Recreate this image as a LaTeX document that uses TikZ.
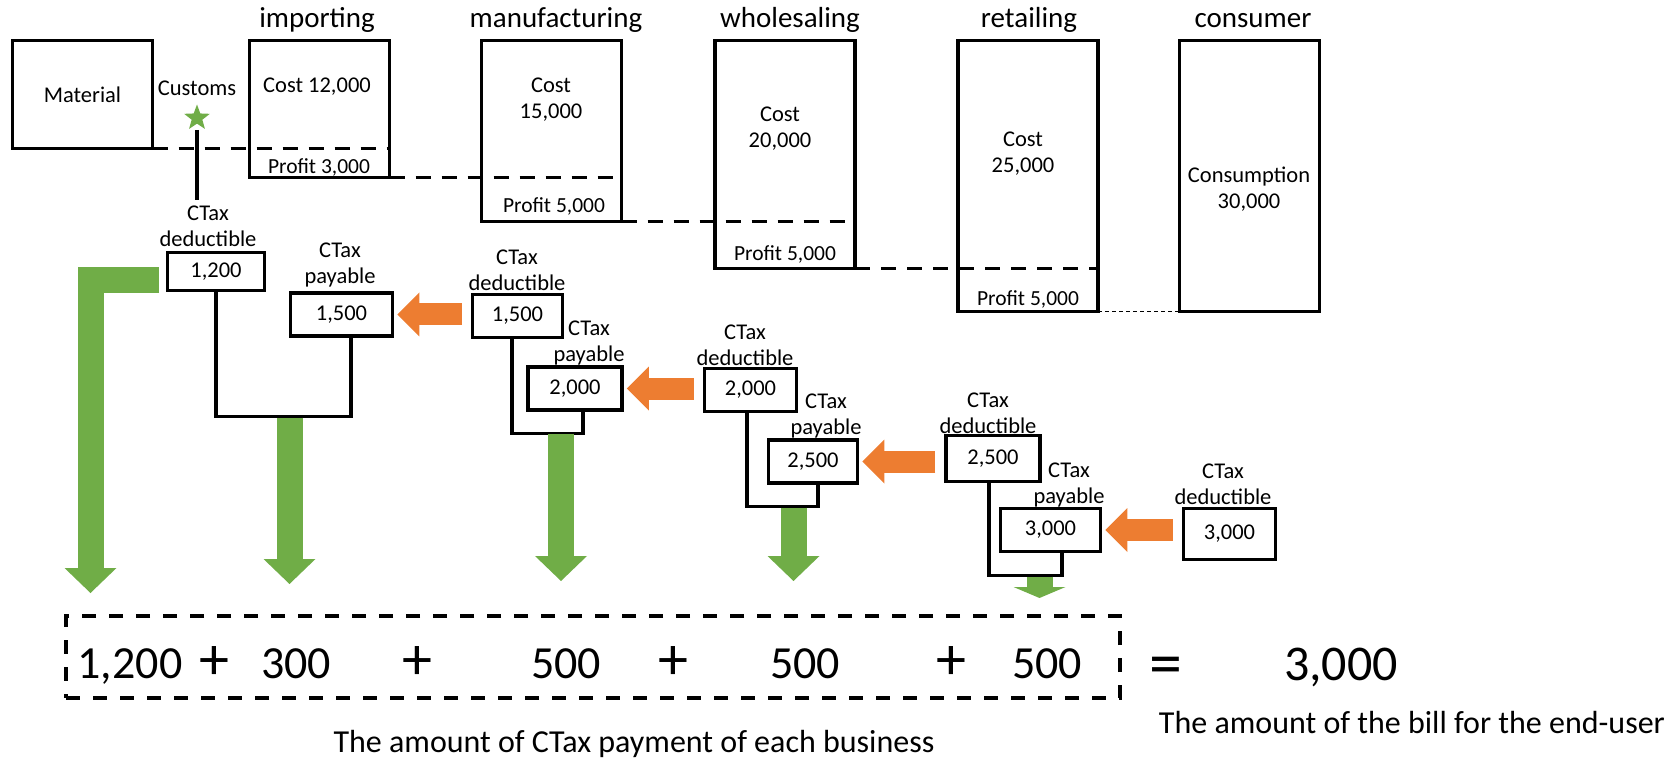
\documentclass[tikz,border=0pt]{standalone}
\usepackage{fontspec}
\setmainfont{Carlito}
\usetikzlibrary{arrows.meta,shapes.geometric}
\definecolor{taxgreen}{RGB}{112,173,71}
\definecolor{taxorange}{RGB}{237,125,49}

\begin{document}
\begin{tikzpicture}[x=1pt,y=-1pt,
  stagebox/.style={draw,line width=3.5pt,minimum width=140pt,inner sep=0pt,outer sep=0pt},
  taxbox/.style={draw,line width=3.5pt,minimum width=94pt,minimum height=43pt,inner sep=0pt,font=\fontsize{22.5}{26}\selectfont},
  txt/.style={inner sep=0pt,align=center,font=\fontsize{22.5}{26}\selectfont},
  profittext/.style={inner sep=0pt,font=\fontsize{21.5}{24}\selectfont},
  stagehead/.style={anchor=base,inner sep=0pt,font=\fontsize{29}{34}\selectfont},
  sumnum/.style={anchor=base,inner sep=0pt,font=\fontsize{46}{54}\selectfont},
  signnum/.style={inner sep=0pt,font=\fontsize{60}{64}\selectfont},
  bottomtext/.style={anchor=base,inner sep=0pt,font=\fontsize{32}{38}\selectfont},
  costline/.style={line width=3.5pt,dash pattern=on 15pt off 11pt},
  bracketline/.style={line width=3.5pt},
  passon/.style={taxorange,line width=22pt,-{Triangle[length=22pt,width=44pt,line width'=0pt]},shorten <=9pt,shorten >=3pt},
  payin/.style={taxgreen,line width=26pt,-{Triangle[length=25pt,width=52pt,line width'=0pt]}},
]
\useasboundingbox (0,0) rectangle (1679,759);

% stages
\node[stagebox,minimum height=108pt,font=\fontsize{22.5}{26}\selectfont] (mat) at (82.5,94.5) {Material};
\node[stagebox,minimum height=137pt] (imp) at (319.5,109) {};
\node[stagebox,minimum height=181pt] (man) at (551.5,131) {};
\node[stagebox,minimum height=228pt] (who) at (785,154.5) {};
\node[stagebox,minimum height=271pt] (ret) at (1028,176) {};
\node[stagebox,minimum height=271pt] (con) at (1249.5,176) {};

\node[stagehead] (implbl) at (317,28) {importing};
\node[stagehead] (manlbl) at (556,28) {manufacturing};
\node[stagehead] (wholbl) at (790,28) {wholesaling};
\node[stagehead] (retlbl) at (1029,28) {retailing};
\node[stagehead] (conlbl) at (1253,28) {consumer};

\node[txt] (impcost) at (317,87) {Cost 12,000};
\node[txt] (mancost) at (551,100) {Cost\\15,000};
\node[txt] (whocost) at (780,129) {Cost\\20,000};
\node[txt] (retcost) at (1023,154) {Cost\\25,000};
\node[txt] (concost) at (1249,189) {Consumption\\30,000};

\node[profittext] (impprofit) at (319,167) {Profit 3,000};
\node[profittext] (manprofit) at (554,206) {Profit 5,000};
\node[profittext] (whoprofit) at (785,254) {Profit 5,000};
\node[profittext] (retprofit) at (1028,299) {Profit 5,000};

\draw[costline] (mat.south east) -- (mat.south east -| imp.east);
\draw[costline] (imp.south east) -- (imp.south east -| man.east);
\draw[costline] (man.south east) -- (man.south east -| who.east);
\draw[costline] (who.south east) -- (who.south east -| ret.east);
\draw[line width=1pt,dash pattern=on 4pt off 3pt] (ret.south east) -- (con.south west);

% customs
\node[txt] (customs) at (197,88) {Customs};
\node[star,star points=5,star point ratio=2.4,fill=taxgreen,minimum size=27pt,inner sep=0pt] (duty) at (197,118) {};
\node[txt] (lblc) at (208,226) {CTax\\deductible};
\draw[bracketline,shorten <=12pt,shorten >=5pt] (duty.center) -- (duty.center |- lblc.north);

% tax boxes
\node[taxbox,minimum width=97pt,minimum height=38pt] (d1) at (216,271.5) {1,200};
\node[taxbox,minimum width=102pt] (p1) at (341.5,314.5) {1,500};
\node[taxbox,minimum width=90pt] (d2) at (517.5,316) {1,500};
\node[taxbox] (p2) at (575,388.5) {2,000};
\node[taxbox,minimum width=92pt] (d3) at (750.5,390) {2,000};
\node[taxbox,minimum width=89pt] (p3) at (813,461.5) {2,500};
\node[taxbox,minimum height=46pt] (d4) at (993,458.5) {2,500};
\node[taxbox,minimum width=100pt] (p4) at (1050.5,530) {3,000};
\node[taxbox,minimum width=92pt,minimum height=51pt] (d5) at (1229.5,534) {3,000};

\node[txt] (lp1) at (340,265) {CTax\\payable};
\node[txt] (ld2) at (517,270) {CTax\\deductible};
\node[txt] (lp2) at (589,343) {CTax\\payable};
\node[txt] (ld3) at (745,345) {CTax\\deductible};
\node[txt] (lp3) at (826,416) {CTax\\payable};
\node[txt] (ld4) at (988,413) {CTax\\deductible};
\node[txt] (lp4) at (1069,485) {CTax\\payable};
\node[txt] (ld5) at (1223,484) {CTax\\deductible};

\draw[passon] (d2.west |- p1.east) -- (p1.east);
\draw[passon] (d3.west |- p2.east) -- (p2.east);
\draw[passon] (d4.west |- p3.east) -- (p3.east);
\draw[passon] (d5.west |- p4.east) -- (p4.east);

\draw[bracketline] (d1.south) -- ++(0,124) -| ([xshift=9.5pt]p1.south);
\draw[bracketline] ([xshift=-5.5pt]d2.south) -- ++(0,94) -| ([xshift=8pt]p2.south);
\draw[bracketline] ([xshift=-3.5pt]d3.south) -- ++(0,93) -| ([xshift=5pt]p3.south);
\draw[bracketline] ([xshift=-4pt]d4.south) -- ++(0,92) -| ([xshift=11.5pt]p4.south);

% payments
\coordinate (s1) at (159,280.5);
\coordinate (t1) at (90.5,593);
\coordinate (s2) at (289.5,417.5);
\coordinate (t2) at (289.5,584);
\coordinate (s3) at (561,433.5);
\coordinate (t3) at (561,581);
\coordinate (s4) at (793.5,507.5);
\coordinate (t4) at (793.5,581);
\coordinate (s5) at (1039.5,576.5);
\coordinate (t5) at (1039.5,598);
\draw[payin] (s1) -| (t1);
\draw[payin] (s2) -- (t2);
\draw[payin] (s3) -- (t3);
\draw[payin] (s4) -- (t4);
\draw[taxgreen,line width=26pt,-{Triangle[length=11pt,width=52pt,line width'=0pt]}] (s5) -- (t5);

% sum
\node[draw,line width=4pt,dash pattern=on 14pt off 13pt,minimum width=1054pt,minimum height=82pt,inner sep=0pt] (sumbox) at (593,657) {};
\node[sumnum] (n1) at (130,678) {1,200};
\node[signnum] (plus1) at (214,663) {+};
\node[sumnum] (n2) at (296,678) {300};
\node[signnum] (plus2) at (417,663) {+};
\node[sumnum] (n3) at (566,678) {500};
\node[signnum] (plus3) at (673,663) {+};
\node[sumnum] (n4) at (805,678) {500};
\node[signnum] (plus4) at (951,663) {+};
\node[sumnum] (n5) at (1047,678) {500};
\node[signnum,font=\fontsize{66}{70}\selectfont] (equal) at (1166,671) {=};
\node[sumnum,font=\fontsize{50}{60}\selectfont] (total) at (1341,680) {3,000};

\node[bottomtext] (paynote) at (634,752) {The amount of CTax payment of each business};
\node[bottomtext] (billnote) at (1412,733) {The amount of the bill for the end-user};

\end{tikzpicture}
\end{document}
